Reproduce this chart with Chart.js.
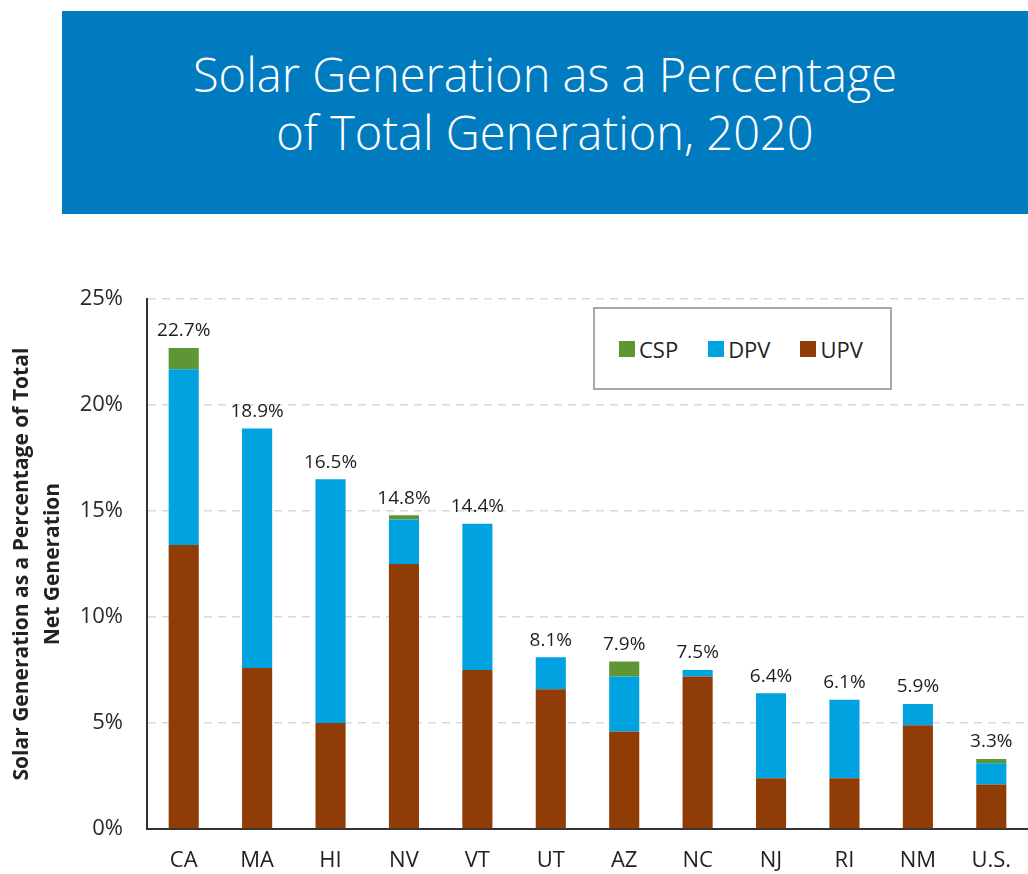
<!DOCTYPE html>
<html>
<head>
<meta charset="utf-8">
<script src="https://cdn.jsdelivr.net/npm/chart.js@4"></script>
<style>
  body { margin: 0; background: #fff; width: 1028px; height: 874px; overflow: hidden; position: relative; font-family: "Open Sans", sans-serif; }
  #banner { position: absolute; left: 62px; top: 11px; width: 966px; height: 203px; background: #007bc0; color: #fff;
            display: flex; align-items: center; justify-content: center; text-align: center; box-sizing: border-box;
            padding-bottom: 20px; font-weight: 300; font-size: 47px; line-height: 58px; }
  #chartBox { position: absolute; left: 0; top: 262px; width: 1028px; height: 612px; }
  #legend { position: absolute; left: 593px; top: 307px; height: 79px; border: 2px solid #a8a8a8; background: #fff;
            display: flex; align-items: center; padding-left: 24px; width: 271px;
            gap: 30px; font-size: 22px; color: #222; }
  #legend span.item { display: flex; align-items: center; gap: 4px; }
  #legend i { display: inline-block; width: 16px; height: 16px; }
</style>
</head>
<body>
<div id="banner">Solar Generation as a Percentage<br>of Total Generation, 2020</div>
<div id="chartBox"><canvas id="solarChart"></canvas></div>
<div id="legend"></div>
<script>
// --- data (percent of total net generation) ---
const states = ['CA', 'MA', 'HI', 'NV', 'VT', 'UT', 'AZ', 'NC', 'NJ', 'RI', 'NM', 'U.S.'];
const upv = [13.4, 7.6, 5.0, 12.5, 7.5, 6.6, 4.6, 7.2, 2.4, 2.4, 4.9, 2.1];
const dpv = [8.3, 11.3, 11.5, 2.1, 6.9, 1.5, 2.6, 0.3, 4.0, 3.7, 1.0, 1.0];
const csp = [1.0, 0, 0, 0.2, 0, 0, 0.7, 0, 0, 0, 0, 0.2];
const totals = [22.7, 18.9, 16.5, 14.8, 14.4, 8.1, 7.9, 7.5, 6.4, 6.1, 5.9, 3.3];
const yTicks = [0, 5, 10, 15, 20, 25];

const seriesNames = ['UPV', 'DPV', 'CSP'];
const seriesColors = ['#903c06', '#00a3e0', '#5e9636'];

// legend box (CSP, DPV, UPV order)
const legendEl = document.getElementById('legend');
[2, 1, 0].forEach(i => {
    legendEl.innerHTML += `<span class="item"><i style="background:${seriesColors[i]}"></i>${seriesNames[i]}</span>`;
});

// totals written above each stack
const totalLabels = {
    id: 'totalLabels',
    afterDatasetsDraw(chart) {
        const ctx = chart.ctx;
        const meta = chart.getDatasetMeta(chart.data.datasets.length - 1);
        ctx.save();
        ctx.font = '500 19px "Open Sans"';
        ctx.fillStyle = '#1e1e1e';
        ctx.textAlign = 'center';
        ctx.textBaseline = 'middle';
        meta.data.forEach((bar, i) => {
            ctx.fillText(totals[i].toFixed(1) + '%', bar.x, bar.y - 17);
        });
        ctx.restore();
    }
};

new Chart(document.getElementById('solarChart'), {
    type: 'bar',
    data: {
        labels: states,
        datasets: [
            { label: seriesNames[0], data: upv, backgroundColor: seriesColors[0] },
            { label: seriesNames[1], data: dpv, backgroundColor: seriesColors[1] },
            { label: seriesNames[2], data: csp, backgroundColor: seriesColors[2] }
        ]
    },
    options: {
        responsive: true,
        maintainAspectRatio: false,
        animation: false,
        layout: { padding: { top: 21, right: 0, bottom: 0, left: 0 } },
        datasets: { bar: { barPercentage: 0.41, categoryPercentage: 1 } },
        plugins: { legend: { display: false }, tooltip: { enabled: false } },
        scales: {
            x: {
                stacked: true,
                grid: { display: false },
                border: { display: true, color: '#333', width: 2 },
                ticks: { color: '#222', font: { family: 'Open Sans', size: 22 }, padding: 11 },
                afterFit(scale) { scale.height = 45; }
            },
            y: {
                stacked: true,
                min: 0,
                max: 25,
                afterBuildTicks(scale) { scale.ticks = yTicks.map(v => ({ value: v })); },
                grid: { color: '#d9d9d9', lineWidth: 1.5, drawTicks: false },
                border: { display: true, color: '#333', width: 2, dash: [8, 6] },
                ticks: { color: '#2a2a2a', font: { family: 'Open Sans', size: 22 }, padding: 24, callback: v => v + '%' },
                title: {
                    display: true,
                    text: ['Solar Generation as a Percentage of Total', 'Net Generation'],
                    color: '#222',
                    font: { family: 'Open Sans', size: 21, weight: 'bold', lineHeight: 1.5 },
                    padding: { top: 6, bottom: 0 }
                },
                afterFit(scale) { scale.width = 147; }
            }
        }
    },
    plugins: [totalLabels]
});
</script>
</body>
</html>
